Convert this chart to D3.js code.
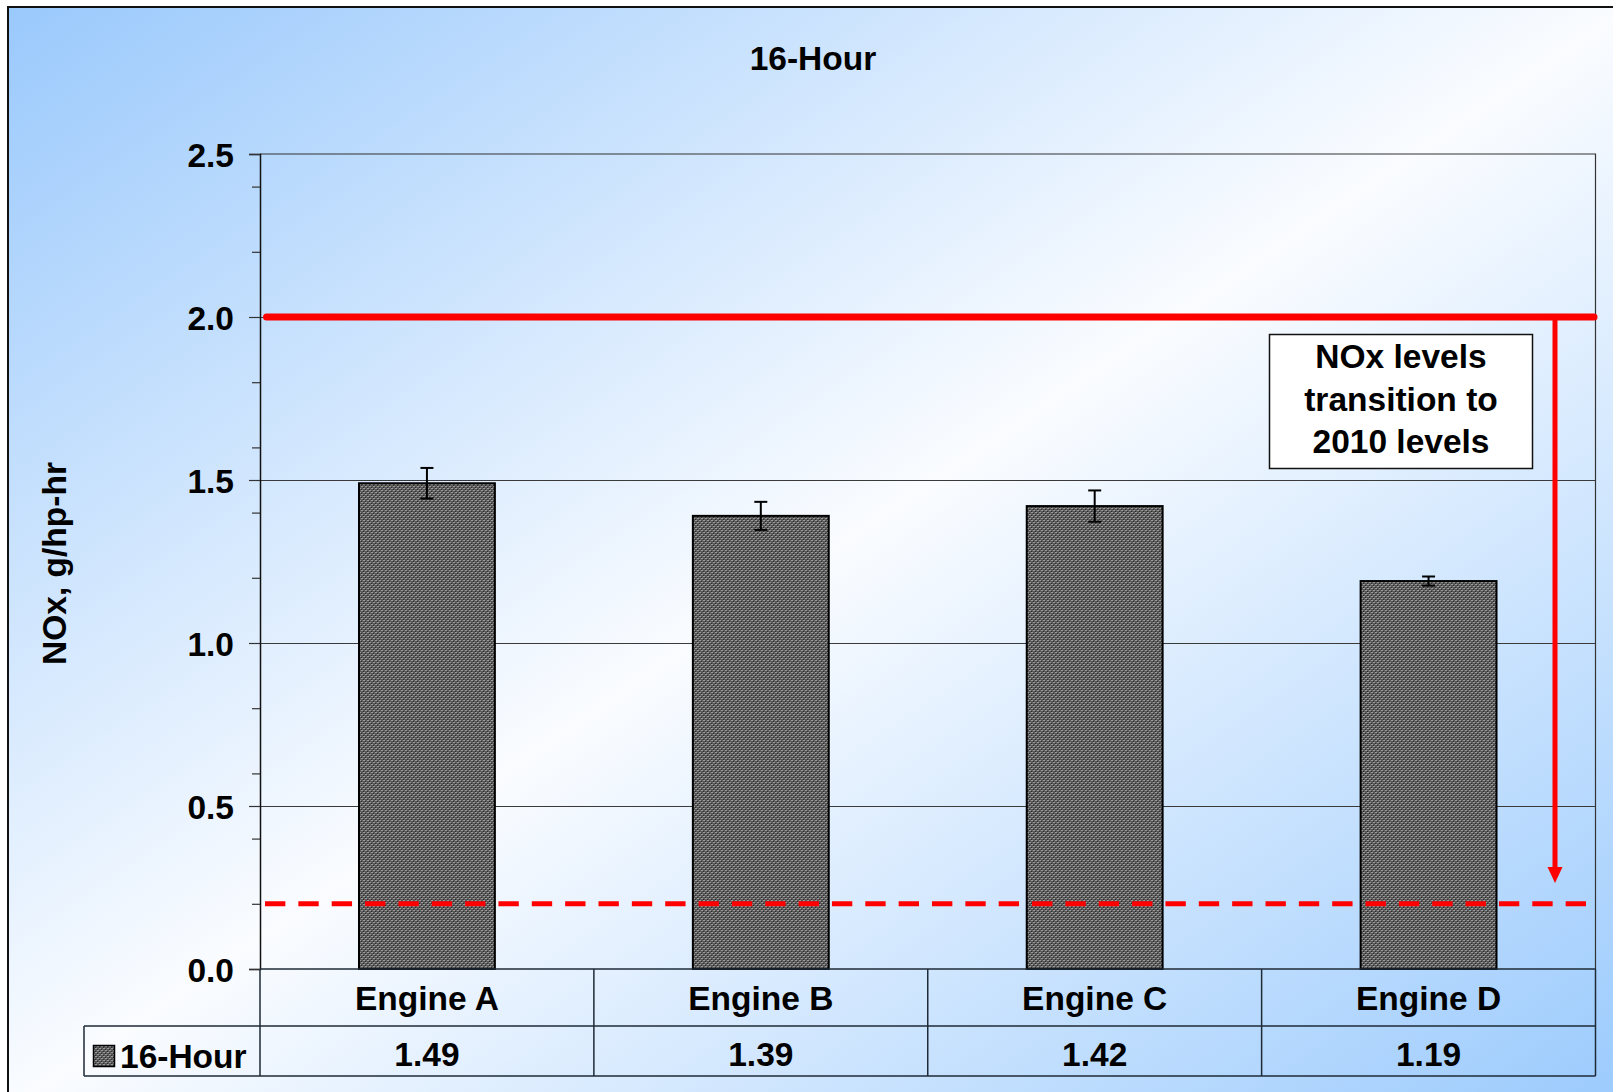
<!DOCTYPE html>
<html>
<head>
<meta charset="utf-8">
<script src="https://cdn.jsdelivr.net/npm/d3@7"></script>
<style>
  html, body { margin: 0; padding: 0; background: #ffffff; }
  svg { display: block; font-family: "Liberation Sans", Arial, sans-serif; font-weight: bold; }
</style>
</head>
<body>
<svg id="chart" width="1613" height="1092"></svg>
<script>
// NOx emissions by engine, 16-hour test
const title = "16-Hour";
const seriesName = "16-Hour";
const categories = ["Engine A", "Engine B", "Engine C", "Engine D"];
const values = [1.49, 1.39, 1.42, 1.19];
const errors = [0.047, 0.043, 0.048, 0.014];
const yTicks = [0.0, 0.5, 1.0, 1.5, 2.0, 2.5];
const yMinorTicks = [0.2, 0.4, 0.6, 0.8, 1.2, 1.4, 1.6, 1.8, 2.2, 2.4];
const yLabel = "NOx, g/hp-hr";
const currentLimit = 2.0;      // present NOx standard
const futureLimit = 0.2;       // 2010 NOx standard
const arrowTipValue = 0.264;
const noteLines = ["NOx levels", "transition to", "2010 levels"];

const svg = d3.select("#chart");
const W = 1613, H = 1092;
const plot = { left: 260, right: 1595.5, top: 154, bottom: 969 };
const tableRow1 = 1026, tableBottom = 1076, legendLeft = 84;
const FONT = 33.5;

const defs = svg.append("defs");
const grad = defs.append("linearGradient")
  .attr("id", "bg").attr("x1", 0).attr("y1", 0).attr("x2", 1).attr("y2", 1);
grad.append("stop").attr("offset", 0).attr("stop-color", "#9ac9fc");
grad.append("stop").attr("offset", 0.5).attr("stop-color", "#fafcff");
grad.append("stop").attr("offset", 1).attr("stop-color", "#9acafd");

// fine textured fill for the bars
const pat = defs.append("pattern").attr("id", "barfill")
  .attr("patternUnits", "userSpaceOnUse").attr("width", 4).attr("height", 4);
pat.append("rect").attr("width", 4).attr("height", 4).attr("fill", "#5a5a5a");
[[0,0],[2,2],[1,2],[3,0]].forEach(([x,y]) =>
  pat.append("rect").attr("x", x).attr("y", y).attr("width", 1).attr("height", 1).attr("fill", "#9a9a9a"));
[[1,1],[3,3]].forEach(([x,y]) =>
  pat.append("rect").attr("x", x).attr("y", y).attr("width", 1).attr("height", 1).attr("fill", "#2a2a2a"));

// background panel
svg.append("rect").attr("x", 8).attr("y", 7).attr("width", W + 10).attr("height", H + 10)
  .attr("fill", "url(#bg)").attr("stroke", "#111").attr("stroke-width", 2);

const y = d3.scaleLinear().domain([0, 2.5]).range([plot.bottom, plot.top]);
const x = d3.scaleBand().domain(categories).range([plot.left, plot.right])
  .paddingInner(0.593).paddingOuter(0.2965);
const col = d3.scaleBand().domain(categories).range([plot.left, plot.right]).padding(0);

// title
svg.append("text").attr("x", 813).attr("y", 70).attr("text-anchor", "middle")
  .attr("font-size", 33.5).attr("fill", "#000").text(title);

// gridlines
svg.append("g").selectAll("line").data(yTicks.filter(d => d > 0 && d < 2.5)).join("line")
  .attr("x1", plot.left).attr("x2", plot.right)
  .attr("y1", d => Math.round(y(d)) + 0.5).attr("y2", d => Math.round(y(d)) + 0.5)
  .attr("stroke", "#3a3a3a").attr("stroke-width", 1);

// plot frame (top and right)
svg.append("path")
  .attr("d", `M${plot.left},${y(2.5)}H${plot.right}V${plot.bottom}`)
  .attr("fill", "none").attr("stroke", "#333").attr("stroke-width", 1.2);

// y axis with major and minor ticks
const yAxis = d3.axisLeft(y).tickValues(yTicks).tickFormat(d3.format(".1f"))
  .tickSize(11).tickPadding(15);
const ya = svg.append("g").attr("transform", `translate(${plot.left},0)`).call(yAxis);
ya.select(".domain").attr("stroke", "#111").attr("stroke-width", 1.5);
ya.selectAll(".tick line").attr("stroke", "#333").attr("stroke-width", 1.2);
ya.selectAll(".tick text").attr("font-size", FONT).attr("font-weight", "bold")
  .attr("font-family", "'Liberation Sans', Arial, sans-serif").attr("fill", "#000").attr("dy", "0.36em");
svg.append("g").attr("transform", `translate(${plot.left},0)`)
  .call(d3.axisLeft(y).tickValues(yMinorTicks).tickSize(8).tickFormat(""))
  .call(g => g.select(".domain").remove())
  .call(g => g.selectAll(".tick line").attr("stroke", "#333").attr("stroke-width", 1.2));

// y axis title
svg.append("text").attr("transform", `translate(66,${(plot.top + plot.bottom) / 2 + 2}) rotate(-90)`)
  .attr("text-anchor", "middle").attr("font-size", FONT).attr("fill", "#000").text(yLabel);

// bars
svg.append("g").selectAll("rect").data(categories).join("rect")
  .attr("x", d => x(d)).attr("width", x.bandwidth())
  .attr("y", (d, i) => y(values[i])).attr("height", (d, i) => y(0) - y(values[i]))
  .attr("fill", "url(#barfill)").attr("stroke", "#000").attr("stroke-width", 2);

// error bars
const eb = svg.append("g").attr("stroke", "#000").attr("stroke-width", 2);
categories.forEach((c, i) => {
  const cx = x(c) + x.bandwidth() / 2;
  const top = y(values[i] + errors[i]), bot = y(values[i] - errors[i]);
  eb.append("line").attr("x1", cx).attr("x2", cx).attr("y1", top).attr("y2", bot);
  eb.append("line").attr("x1", cx - 6.5).attr("x2", cx + 6.5).attr("y1", top).attr("y2", top);
  eb.append("line").attr("x1", cx - 6.5).attr("x2", cx + 6.5).attr("y1", bot).attr("y2", bot);
});

// current limit line
svg.append("line").attr("x1", plot.left + 6.5).attr("x2", plot.right - 1.5)
  .attr("y1", y(currentLimit)).attr("y2", y(currentLimit))
  .attr("stroke", "#ff0000").attr("stroke-width", 7).attr("stroke-linecap", "round");

// 2010 limit (dashed)
svg.append("line").attr("x1", 265).attr("x2", 1586)
  .attr("y1", y(futureLimit)).attr("y2", y(futureLimit))
  .attr("stroke", "#ff0000").attr("stroke-width", 5).attr("stroke-dasharray", "20.35 13");

// transition arrow
const ax = 1555;
const tipY = y(arrowTipValue);
svg.append("line").attr("x1", ax).attr("x2", ax).attr("y1", y(currentLimit)).attr("y2", tipY - 12)
  .attr("stroke", "#ff0000").attr("stroke-width", 5);
svg.append("path").attr("d", `M${ax - 7.5},${tipY - 16}L${ax + 7.5},${tipY - 16}L${ax},${tipY}Z`)
  .attr("fill", "#ff0000");

// note box
svg.append("rect").attr("x", 1269.5).attr("y", 334.5).attr("width", 263).attr("height", 134)
  .attr("fill", "#fff").attr("stroke", "#111").attr("stroke-width", 1.5);
svg.append("g").selectAll("text").data(noteLines).join("text")
  .attr("x", 1401).attr("y", (d, i) => 368 + i * 42.5).attr("text-anchor", "middle")
  .attr("font-size", FONT).attr("fill", "#000").text(d => d);

// data table beneath the plot
const tl = svg.append("g").attr("stroke", "#1e2a36").attr("stroke-width", 1.5).attr("fill", "none");
tl.append("line").attr("x1", plot.left).attr("x2", plot.right).attr("y1", plot.bottom).attr("y2", plot.bottom);
tl.append("line").attr("x1", legendLeft).attr("x2", plot.right).attr("y1", tableRow1).attr("y2", tableRow1);
tl.append("line").attr("x1", legendLeft).attr("x2", plot.right).attr("y1", tableBottom).attr("y2", tableBottom);
tl.append("line").attr("x1", legendLeft).attr("x2", legendLeft).attr("y1", tableRow1).attr("y2", tableBottom);
const bounds = categories.map(c => col(c)).concat([plot.right]);
tl.selectAll("line.v").data(bounds).join("line").attr("class", "v")
  .attr("x1", d => d).attr("x2", d => d).attr("y1", plot.bottom).attr("y2", tableBottom);

svg.append("g").selectAll("text").data(categories).join("text")
  .attr("x", d => col(d) + col.bandwidth() / 2).attr("y", 1010)
  .attr("text-anchor", "middle").attr("font-size", FONT).attr("fill", "#000").text(d => d);
svg.append("g").selectAll("text").data(values).join("text")
  .attr("x", (d, i) => col(categories[i]) + col.bandwidth() / 2).attr("y", 1066)
  .attr("text-anchor", "middle").attr("font-size", FONT).attr("fill", "#000").text(d => d.toFixed(2));

// legend key
svg.append("rect").attr("x", 93.5).attr("y", 1045.5).attr("width", 21).attr("height", 21)
  .attr("fill", "url(#barfill)").attr("stroke", "#000").attr("stroke-width", 1.5);
svg.append("text").attr("x", 120).attr("y", 1068).attr("font-size", FONT).attr("fill", "#000").text(seriesName);
</script>
</body>
</html>
